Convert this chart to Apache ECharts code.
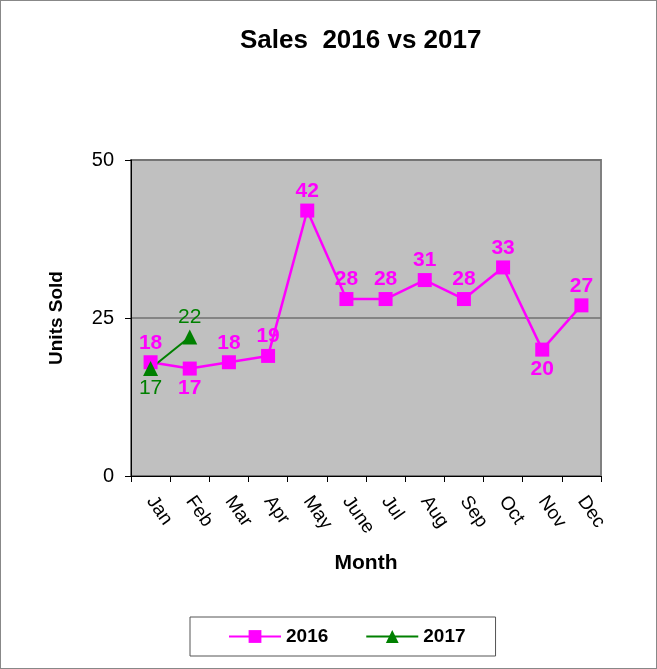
<!DOCTYPE html>
<html lang="en">
<head>
    <meta charset="UTF-8">
    <title>Sales 2016 vs 2017</title>
    <script src="https://cdn.jsdelivr.net/npm/echarts@6/dist/echarts.min.js"></script>
    <style>
        html, body { margin: 0; padding: 0; background: #fff; }
        #chart { width: 657px; height: 669px; box-sizing: border-box; border: 1px solid #888; }
    </style>
</head>
<body>
<div id="chart"></div>
<script>
    var months = ['Jan', 'Feb', 'Mar', 'Apr', 'May', 'June', 'Jul', 'Aug', 'Sep', 'Oct', 'Nov', 'Dec'];
    var sales2016 = [18, 17, 18, 19, 42, 28, 28, 31, 28, 33, 20, 27];
    var sales2017 = [17, 22];
    // where each data label sits
    var pos2016 = ['top', 'bottom', 'top', 'top', 'top', 'top', 'top', 'top', 'top', 'top', 'bottom', 'top'];
    var pos2017 = ['bottom', 'top'];

    var myChart = echarts.init(document.getElementById('chart'));

    var data2016 = [];
    for (var i = 0; i < sales2016.length; i++) {
        data2016[i] = {value: sales2016[i], label: {position: pos2016[i]}};
    }
    var data2017 = [];
    for (var j = 0; j < sales2017.length; j++) {
        data2017[j] = {value: sales2017[j], label: {position: pos2017[j]}};
    }

    var option = {
        animation: false,
        textStyle: {fontFamily: 'Liberation Sans, Arial, sans-serif'},
        title: {
            text: 'Sales  2016 vs 2017',
            left: 234,
            top: 22,
            textStyle: {fontSize: 26, fontWeight: 'bold', color: '#000', fontFamily: 'Liberation Sans, Arial, sans-serif'}
        },
        legend: {
            bottom: 12,
            left: 189,
            itemGap: 37,
            itemWidth: 52,
            itemHeight: 16,
            padding: [10, 30, 10, 38],
            borderColor: '#555',
            borderWidth: 1,
            borderRadius: 0,
            textStyle: {fontSize: 19, fontWeight: 'bold', color: '#000'},
            data: ['2016', '2017']
        },
        grid: {
            left: 130,
            right: 55,
            top: 159,
            bottom: 192,
            show: true,
            backgroundColor: '#C0C0C0',
            borderColor: '#808080',
            borderWidth: 2
        },
        xAxis: {
            type: 'category',
            data: months,
            boundaryGap: true,
            name: 'Month',
            nameLocation: 'middle',
            nameGap: 77,
            nameTextStyle: {fontSize: 21, fontWeight: 'bold', color: '#000'},
            axisLine: {lineStyle: {color: '#000', width: 1}},
            axisTick: {show: true, alignWithLabel: false, length: 6, lineStyle: {color: '#000'}},
            axisLabel: {rotate: -55, fontSize: 19, color: '#000', margin: 22, interval: 0}
        },
        yAxis: {
            type: 'value',
            min: 0,
            max: 50,
            interval: 25,
            name: 'Units Sold',
            nameLocation: 'middle',
            nameGap: 65,
            nameTextStyle: {fontSize: 19, fontWeight: 'bold', color: '#000'},
            axisLine: {show: true, lineStyle: {color: '#000', width: 1}},
            axisTick: {show: true, length: 6, lineStyle: {color: '#000'}},
            axisLabel: {fontSize: 20, color: '#000', margin: 17},
            splitLine: {show: true, lineStyle: {color: '#707070', width: 1.5}}
        },
        series: [
            {
                name: '2016',
                type: 'line',
                data: data2016,
                symbol: 'rect',
                symbolSize: 14,
                itemStyle: {color: '#FF00FF'},
                lineStyle: {color: '#FF00FF', width: 2.5},
                label: {show: true, fontSize: 21, fontWeight: 'bold', color: '#FF00FF', distance: 2}
            },
            {
                name: '2017',
                type: 'line',
                data: data2017,
                symbol: 'triangle',
                symbolSize: 15,
                itemStyle: {color: '#008000'},
                lineStyle: {color: '#008000', width: 2},
                label: {show: true, fontSize: 21, color: '#008000', distance: 2}
            }
        ]
    };

    myChart.setOption(option);
</script>
</body>
</html>
